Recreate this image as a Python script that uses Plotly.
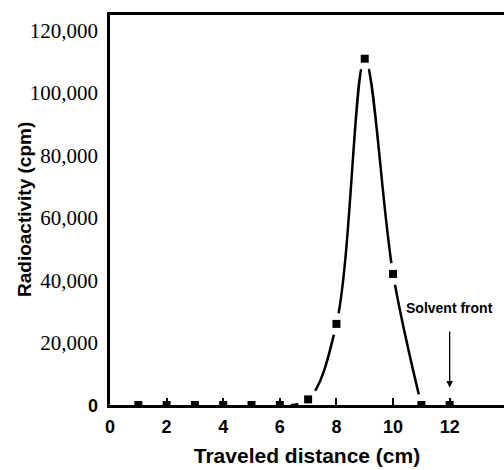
import plotly.graph_objects as go

# ---- data ----
distance = [1, 2, 3, 4, 5, 6, 7, 8, 9, 10, 11, 12]
radioactivity = [0, 0, 0, 0, 0, 0, 1800, 26000, 111000, 42000, 0, 0]
curve_x = distance[5:11]
curve_y = radioactivity[5:11]
x_ticks = [0, 2, 4, 6, 8, 10, 12]
y_ticks = [0, 20000, 40000, 60000, 80000, 100000, 120000]
y_ticklabels = ['<span style="font-family:Liberation Sans;font-weight:bold;font-size:18px">0</span>',
                "20,000", "40,000", "60,000", "80,000", "100,000", "120,000"]
solvent_front_x = 12

fig = go.Figure()
fig.add_trace(go.Scatter(x=curve_x, y=curve_y, mode="lines",
                         line=dict(color="black", width=2.5, shape="spline", smoothing=1),
                         hoverinfo="skip", showlegend=False))
# white gaps around symbols
fig.add_trace(go.Scatter(x=curve_x, y=curve_y, mode="markers",
                         marker=dict(color="white", size=22, symbol="circle", line=dict(width=0)),
                         hoverinfo="skip", showlegend=False))
fig.add_trace(go.Scatter(x=distance, y=radioactivity, mode="markers",
                         marker=dict(color="black", size=8, symbol="square", line=dict(width=0)),
                         showlegend=False))

fig.add_annotation(x=solvent_front_x, y=31000, xref="x", yref="y", text="Solvent front",
                   showarrow=False, font=dict(family="Liberation Sans", size=14, color="black", weight="bold"))
fig.add_annotation(x=solvent_front_x, y=5600, xref="x", yref="y", ax=solvent_front_x, ay=24000,
                   axref="x", ayref="y", text="", showarrow=True, arrowhead=2, arrowsize=1,
                   arrowwidth=1.3, arrowcolor="black")
# y-axis title
fig.add_annotation(x=0, y=0.5, xref="paper", yref="paper", xanchor="center", yanchor="middle",
                   xshift=-86, text="Radioactivity (cpm)", textangle=-90, showarrow=False,
                   font=dict(family="Liberation Sans", size=19, color="black", weight="bold"))

fig.update_layout(
    width=504, height=470,
    margin=dict(l=110, r=0, t=15, b=65),
    paper_bgcolor="white", plot_bgcolor="white",
    xaxis=dict(range=[0, 13.92], showline=True, linecolor="black", linewidth=2.5, mirror=True,
               ticks="inside", ticklen=7, tickwidth=2, tickcolor="black", automargin=False,
               tickvals=x_ticks, showgrid=False, zeroline=False, ticklabelstandoff=4,
               tickfont=dict(family="Liberation Sans", size=18, color="black", weight="bold"),
               title=dict(text="Traveled distance (cm)", standoff=12,
                          font=dict(family="Liberation Sans", size=21, color="black", weight="bold"))),
    yaxis=dict(range=[0, 125000], showline=True, linecolor="black", linewidth=2.5, automargin=False,
               ticks="", tickvals=y_ticks, ticktext=y_ticklabels, showgrid=False, zeroline=False,
               ticklabelstandoff=5,
               tickfont=dict(family="Liberation Serif", size=21, color="black")),
)

fig.write_html("out.html", config={"displayModeBar": False},
               post_script="document.body.style.margin='0px';")
